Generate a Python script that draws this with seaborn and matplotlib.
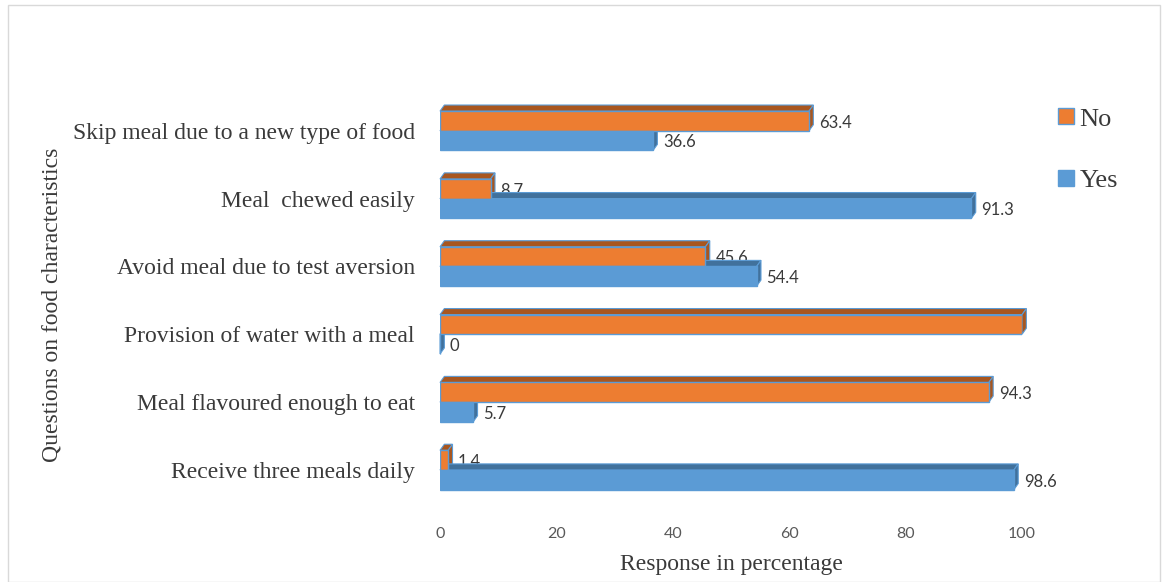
import numpy as np
import pandas as pd
import matplotlib
matplotlib.use("Agg")
import matplotlib.pyplot as plt
import seaborn as sns
from matplotlib.patches import Polygon, Rectangle
from matplotlib.lines import Line2D

QUESTIONS = [
    "Skip meal due to a new type of food",
    "Meal  chewed easily",
    "Avoid meal due to test aversion",
    "Provision of water with a meal",
    "Meal flavoured enough to eat",
    "Receive three meals daily",
]
NO_VALUES = [63.4, 8.7, 45.6, 100, 94.3, 1.4]
YES_VALUES = [36.6, 91.3, 54.4, 0, 5.7, 98.6]
NO_LABELS = ["63.4", "8.7", "45.6", "100", "94.3", "1.4"]
YES_LABELS = ["36.6", "91.3", "54.4", "0", "5.7", "98.6"]
X_TICKS = [0, 20, 40, 60, 80, 100]

ORANGE = "#ED7D31"
BLUE = "#5B9BD5"
ORANGE_DARK = "#A8561F"
BLUE_DARK = "#41719C"
EDGE = "#5B9BD5"
TEXT_GRAY = "#3A3A3A"
TICK_GRAY = "#595959"
SERIF = ["Liberation Serif", "DejaVu Serif"]
SANS = ["Lato", "DejaVu Sans"]

# depth of the fake 3D faces, in data units
DEPTH_X = 0.75
DEPTH_Y = 0.09

df = pd.DataFrame({
    "Question": QUESTIONS * 2,
    "Response": ["No"] * len(QUESTIONS) + ["Yes"] * len(QUESTIONS),
    "Value": NO_VALUES + YES_VALUES,
    "Label": NO_LABELS + YES_LABELS,
})

sns.set_theme(style="white")
fig = plt.figure(figsize=(11.63, 5.82), dpi=100)
ax = fig.add_axes([440 / 1163, 1 - 517.5 / 582, 582 / 1163, 424 / 582])

sns.barplot(data=df, y="Question", x="Value", hue="Response",
            hue_order=["No", "Yes"], order=QUESTIONS,
            palette={"No": ORANGE, "Yes": BLUE}, orient="h",
            width=0.58, edgecolor=EDGE, linewidth=1.0, saturation=1,
            legend=False, ax=ax, zorder=3)

# top and right faces built from each drawn bar
orange_r = matplotlib.colors.to_rgba(ORANGE)[0]
for bar in ax.patches:
    x, y = bar.get_x(), bar.get_y()
    w, h = bar.get_width(), bar.get_height()
    is_no = abs(bar.get_facecolor()[0] - orange_r) < 0.05
    dark = ORANGE_DARK if is_no else BLUE_DARK
    top = Polygon([(x, y), (x + DEPTH_X, y - DEPTH_Y), (x + w + DEPTH_X, y - DEPTH_Y), (x + w, y)],
                  closed=True, facecolor=dark, edgecolor=EDGE, linewidth=0.8,
                  zorder=2, clip_on=False)
    side = Polygon([(x + w, y), (x + w + DEPTH_X, y - DEPTH_Y),
                    (x + w + DEPTH_X, y + h - DEPTH_Y), (x + w, y + h)],
                   closed=True, facecolor=dark, edgecolor=EDGE, linewidth=0.8,
                   zorder=2, clip_on=False)
    ax.add_patch(top)
    ax.add_patch(side)

# value labels
for i, q in enumerate(QUESTIONS):
    for val, lab, off in ((NO_VALUES[i], NO_LABELS[i], -0.12), (YES_VALUES[i], YES_LABELS[i], 0.17)):
        ax.annotate(lab, xy=(val + DEPTH_X, i + off), xytext=(4, 0),
                    textcoords="offset points", ha="left", va="center",
                    fontsize=12, color=TEXT_GRAY, family=SANS, zorder=1)

ax.set_xlim(0, 100)
ax.set_ylim(5.7, -0.55)
ax.set_xticks(X_TICKS)
ax.set_xticklabels([str(t) for t in X_TICKS], family=SANS, fontsize=11.5, color=TICK_GRAY)
ax.set_yticks(range(len(QUESTIONS)))
ax.set_yticklabels(QUESTIONS, family=SERIF, fontsize=17, color=TEXT_GRAY)
ax.tick_params(axis="y", length=0, pad=18)
ax.tick_params(axis="x", length=0, pad=7)
ax.set_xlabel("Response in percentage", family=SERIF, fontsize=17, color=TEXT_GRAY, labelpad=9)
ax.set_ylabel("")
for s in ax.spines.values():
    s.set_visible(False)
ax.grid(False)

fig.text(52 / 1163, 1 - 305 / 582, "Questions on food characteristics", rotation=90,
         ha="center", va="center", family=SERIF, fontsize=17, color=TEXT_GRAY)

handles = [
    Line2D([], [], marker="s", linestyle="", markersize=11, markerfacecolor=ORANGE,
           markeredgecolor=EDGE, markeredgewidth=1.0),
    Line2D([], [], marker="s", linestyle="", markersize=11, markerfacecolor=BLUE,
           markeredgecolor=EDGE, markeredgewidth=1.0),
]
fig.legend(handles, ["No", "Yes"], loc="upper left", bbox_to_anchor=(1040 / 1163, 1 - 94 / 582),
           frameon=False, prop={"family": SERIF, "size": 19}, labelcolor=TEXT_GRAY,
           labelspacing=1.45, handletextpad=0.0, handlelength=1.0, borderpad=0)

fig.patches.append(Rectangle((8 / 1163, 0), 1152 / 1163, 1 - 5 / 582, transform=fig.transFigure,
                             fill=False, edgecolor="#D9D9D9", linewidth=1.0))

fig.savefig("out.png", dpi=100)
